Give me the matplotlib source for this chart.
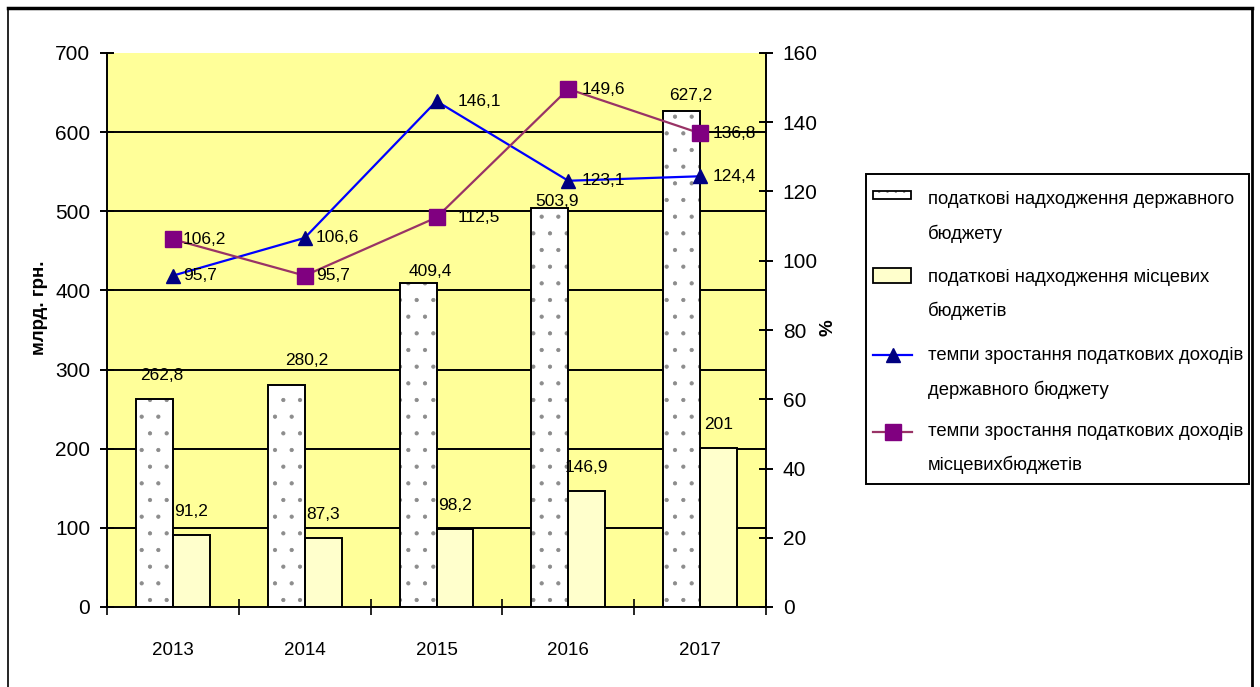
import matplotlib
matplotlib.use("Agg")
import matplotlib.pyplot as plt
import numpy as np
from matplotlib import font_manager
from matplotlib.lines import Line2D
from matplotlib.patches import Rectangle
from matplotlib.transforms import Affine2D

# ---- data ----
years = ["2013", "2014", "2015", "2016", "2017"]
state_tax = [262.8, 280.2, 409.4, 503.9, 627.2]      # млрд. грн.
local_tax = [91.2, 87.3, 98.2, 146.9, 201]           # млрд. грн.
state_growth = [95.7, 106.6, 146.1, 123.1, 124.4]    # %
local_growth = [106.2, 95.7, 112.5, 149.6, 136.8]    # %

series_labels = [
    "податкові надходження державного\nбюджету",
    "податкові надходження місцевих\nбюджетів",
    "темпи зростання податкових доходів\nдержавного бюджету",
    "темпи зростання податкових доходів\nмісцевихбюджетів",
]
left_title = "млрд. грн."
right_title = "%"

# label nudges in pixels (dx, dy) for the bar value labels
state_label_nudge = [(7, 19), (21, 20), (12, 7), (7, 2), (9, 11)]
local_label_nudge = (0, 19)
line_label_dx = [10, 11, 21, 13, 13]

STATE_COLOR = "white"
LOCAL_COLOR = "#FFFFCC"
PLOT_BG = "#FFFF99"
DOT_COLOR = "#8c8c8c"
BLUE_LINE, BLUE_MARK = "#0000FF", "#000080"
PURPLE_LINE, PURPLE_MARK = "#993366", "#800080"


def fmt(v):
    return f"{v:g}".replace(".", ",")


def pick_font(names):
    for n in names:
        try:
            font_manager.findfont(n, fallback_to_default=False)
            return n
        except Exception:
            continue
    return "DejaVu Sans"


regular = pick_font(["Liberation Sans", "Arial"])
plt.rcParams["font.family"] = [regular, "DejaVu Sans"]
plt.rcParams["hatch.linewidth"] = 0.6

W, H, DPI = 1260, 687, 100
PX = 72.0 / DPI  # points per pixel

fig = plt.figure(figsize=(W / DPI, H / DPI), dpi=DPI)
fig.patch.set_facecolor("white")
# pixel coordinates measured from the top-left corner of the figure
pix = Affine2D().scale(1 / W, -1 / H).translate(0, 1) + fig.transFigure

L, R, T, B = 107, 766, 53, 607
ax = fig.add_axes([L / W, (H - B) / H, (R - L) / W, (B - T) / H])
ax.set_facecolor(PLOT_BG)

idx = np.arange(len(years))
w = 0.28

# horizontal grid lines
for g in range(100, 700, 100):
    ax.axhline(g, color="black", lw=1.4, zorder=0.5)

# state budget bars: dotted fill + black outline
ax.bar(idx - w / 2, state_tax, w, color=STATE_COLOR, hatch=".",
       edgecolor=DOT_COLOR, linewidth=0, zorder=2)
ax.bar(idx - w / 2, state_tax, w, fill=False, edgecolor="black",
       linewidth=1.4, zorder=2.1)
# local budget bars
ax.bar(idx + w / 2, local_tax, w, color=LOCAL_COLOR, edgecolor="black",
       linewidth=1.4, zorder=2)

ax.set_xlim(-0.5, len(years) - 0.5)
ax.set_ylim(0, 700)
ax.set_yticks(range(0, 701, 100))
ax.set_xticks(idx)
ax.set_xticklabels(years)
ax.set_xticks(np.arange(-0.5, len(years), 1.0), minor=True)
ax.tick_params(axis="x", which="major", length=0, pad=25, labelsize=13.5)
ax.tick_params(axis="x", which="minor", direction="inout", length=12,
               width=1.2)
ax.tick_params(axis="y", direction="inout", length=10, width=1.4,
               labelsize=15, pad=7)
for s in ("top", "right"):
    ax.spines[s].set_visible(False)
for s in ("left", "bottom"):
    ax.spines[s].set_linewidth(1.4)
    ax.spines[s].set_color("black")

for i, v in enumerate(state_tax):
    dx, dy = state_label_nudge[i]
    ax.annotate(fmt(v), xy=(idx[i] - w / 2, v), xytext=(dx * PX, dy * PX),
                textcoords="offset points", ha="center", va="baseline",
                fontsize=12.5, zorder=5)
for i, v in enumerate(local_tax):
    dx, dy = local_label_nudge
    ax.annotate(fmt(v), xy=(idx[i] + w / 2, v), xytext=(dx * PX, dy * PX),
                textcoords="offset points", ha="center", va="baseline",
                fontsize=12.5, zorder=5)

# growth rates on the secondary axis
ax2 = ax.twinx()
ax2.set_ylim(0, 160)
ax2.set_yticks(range(0, 161, 20))
ax2.plot(idx, state_growth, color=BLUE_LINE, lw=1.6, marker="^",
         markersize=10, markerfacecolor=BLUE_MARK, markeredgecolor=BLUE_MARK,
         zorder=4)
ax2.plot(idx, local_growth, color=PURPLE_LINE, lw=1.6, marker="s",
         markersize=11, markerfacecolor=PURPLE_MARK,
         markeredgecolor=PURPLE_MARK, zorder=4)
for s in ("top", "left", "bottom"):
    ax2.spines[s].set_visible(False)
ax2.spines["right"].set_linewidth(1.4)
ax2.tick_params(axis="y", direction="inout", length=10, width=1.4,
                labelsize=15, pad=7)

for series in (state_growth, local_growth):
    for i, v in enumerate(series):
        ax2.annotate(fmt(v), xy=(idx[i], v),
                     xytext=(line_label_dx[i] * PX, 0),
                     textcoords="offset points", ha="left", va="center",
                     fontsize=12.5, zorder=5)

# axis titles
fig.text(40, 308, left_title, transform=pix, rotation=90, ha="center",
         va="center", fontsize=13.5, fontweight="bold")
fig.text(828, 328, right_title, transform=pix, rotation=90, ha="center",
         va="center", fontsize=13.5, fontweight="bold")

# legend box
fig.add_artist(Rectangle((866, 174), 383, 310, transform=pix,
                         facecolor="white", edgecolor="black", lw=1.4))
# keys
fig.add_artist(Rectangle((873, 191), 38, 8, transform=pix, hatch="..",
                         facecolor=STATE_COLOR, edgecolor=DOT_COLOR, lw=0))
fig.add_artist(Rectangle((873, 191), 38, 8, transform=pix, fill=False,
                         edgecolor="black", lw=1.3))
fig.add_artist(Rectangle((873, 268), 38, 15, transform=pix,
                         facecolor=LOCAL_COLOR, edgecolor="black", lw=1.3))
fig.add_artist(Line2D([873, 912], [355, 355], transform=pix,
                      color=BLUE_LINE, lw=1.6))
fig.add_artist(Line2D([893], [355], transform=pix, marker="^",
                      markersize=10, markerfacecolor=BLUE_MARK,
                      markeredgecolor=BLUE_MARK, linestyle="none"))
fig.add_artist(Line2D([873, 912], [432, 432], transform=pix,
                      color=PURPLE_LINE, lw=1.6))
fig.add_artist(Line2D([893], [432], transform=pix, marker="s",
                      markersize=11, markerfacecolor=PURPLE_MARK,
                      markeredgecolor=PURPLE_MARK, linestyle="none"))
# label lines
line_y = [200, 234, 278, 311, 355, 390, 432, 465]
legend_lines = [ln for lab in series_labels for ln in lab.split("\n")]
for y, ln in zip(line_y, legend_lines):
    fig.text(928, y, ln, transform=pix, ha="left", va="center",
             fontsize=13.3)

# outer frame of the figure
fig.add_artist(Line2D([8, 8], [H, 8], transform=pix, color="black", lw=1.2))
fig.add_artist(Line2D([1252, 1252], [H, 8], transform=pix, color="black",
                      lw=2))
fig.add_artist(Line2D([8, 1252], [8, 8], transform=pix, color="black",
                      lw=2.5))

fig.savefig("out.png", dpi=DPI)
